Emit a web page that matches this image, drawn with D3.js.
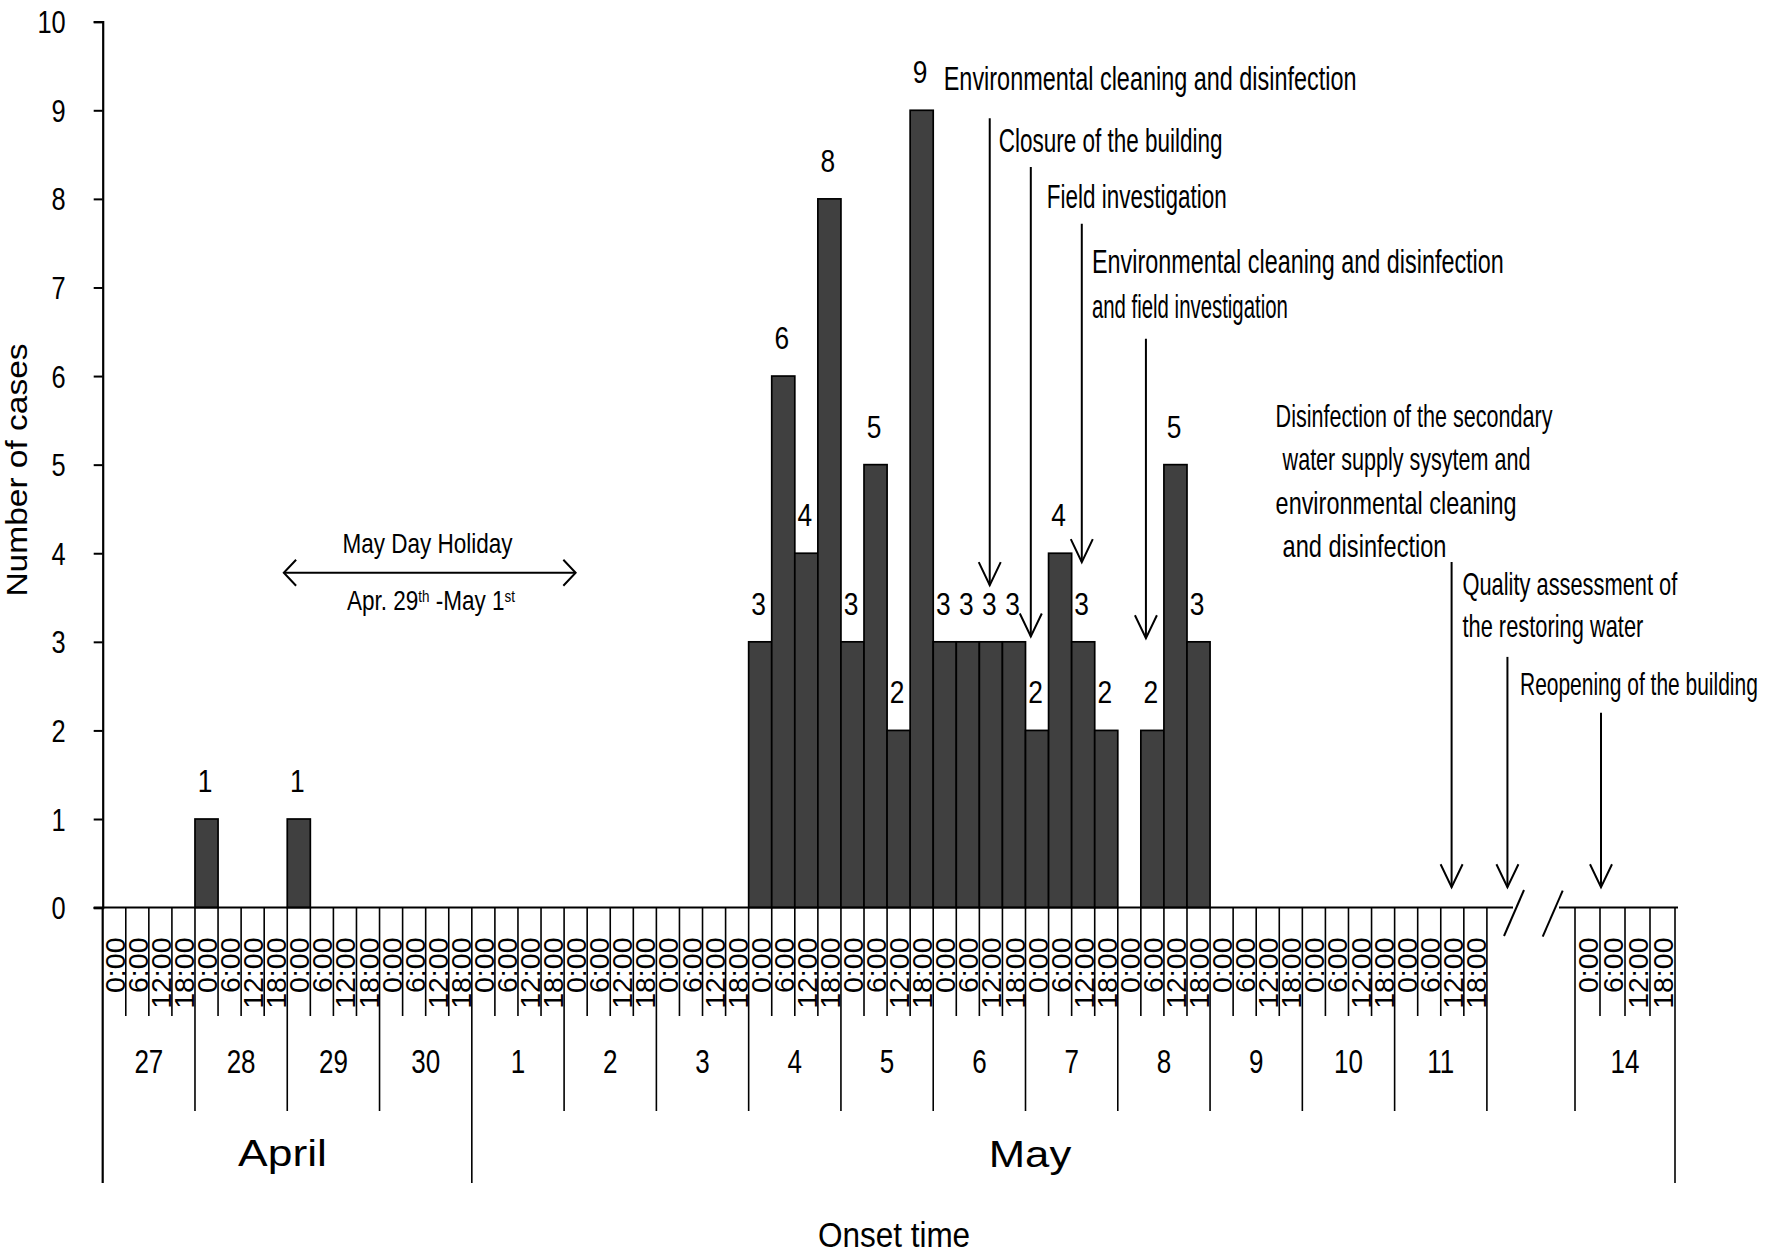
<!DOCTYPE html>
<html><head><meta charset="utf-8">
<script src="https://cdn.jsdelivr.net/npm/d3@7/dist/d3.min.js"></script>
<style>
body{margin:0;background:#fff}
svg{display:block}
text{font-family:"Liberation Sans",Arial,Helvetica,sans-serif;fill:#000}
</style>
</head><body>
<svg id="chart" width="1772" height="1259"></svg>
<script>
// ---------------- data ----------------
const days = ["27","28","29","30","1","2","3","4","5","6","7","8","9","10","11"];
const skippedDay = "14";
const timeLabels = ["0:00","6:00","12:00","18:00"];
const yTicks = [0,1,2,3,4,5,6,7,8,9,10];
// cases per 6-hour slot, Apr 27 0:00 ... May 11 18:00
const cases = [
  0,0,0,0,  1,0,0,0,  1,0,0,0,  0,0,0,0,   // Apr 27-30
  0,0,0,0,  0,0,0,0,  0,0,0,0,              // May 1-3
  3,6,4,8,  3,5,2,9,  3,3,3,3,  2,4,3,2,    // May 4-7
  0,2,5,3,                                  // May 8
  0,0,0,0,  0,0,0,0,  0,0,0,0               // May 9-11
];
const casesDay14 = [0,0,0,0];
const aprilDays = 4; // number of April days shown
const monthNames = ["April","May"];

// annotations: arrow at slot position, from value -> to value
const annotations = [
  {lines:["Environmental cleaning and disinfection"], widths:[413], slot:38.45, from:8.91, to:3.64, dx:-46, dy:-28, lh:45, fs:33.5},
  {lines:["Closure of the building"], widths:[224], slot:40.23, from:8.36, to:3.06, dx:-32, dy:-15, lh:45, fs:33.5},
  {lines:["Field investigation"], widths:[180], slot:42.44, from:7.72, to:3.90, dx:-35, dy:-16, lh:45, fs:33.5},
  {lines:["Environmental cleaning and disinfection","and field investigation"], widths:[412,196], slot:45.22, from:6.42, to:3.04, dx:-54, dy:-66, lh:45, fs:33.5},
  {lines:["Disinfection of the secondary","water supply sysytem and","environmental cleaning","and disinfection"], widths:[277,248,241,164], indent:[0,7,0,7], slot:58.47, from:3.90, to:0.23, dx:-176, dy:-135, lh:43.3, fs:30.5},
  {lines:["Quality assessment of","the restoring water"], widths:[215,181], slot:60.89, from:2.83, to:0.23, dx:-45, dy:-62, lh:42, fs:30.5},
  {lines:["Reopening of the building"], widths:[238], slot14:1.04, from:2.20, to:0.23, dx:-81, dy:-18, lh:42, fs:30.5}
];
const holiday = {title:"May Day Holiday", from:7.85, to:20.5, level:3.78};

// ---------------- layout ----------------
const svg = d3.select("#chart");
const x = d3.scaleLinear().domain([0, 60]).range([102.7, 1486.9]);
const x14 = d3.scaleLinear().domain([0, 4]).range([1575, 1675]);
const y = d3.scaleLinear().domain([0, 10]).range([907.6, 21.7]);
const slotW = x(1) - x(0);
const slotLineEnd = 1016, dayLineEnd = 1111, monthLineEnd = 1183;

function txt(g, str, px, py, fs, k, anchor){
  return g.append("text")
    .attr("transform", `translate(${px},${py}) scale(${k},1)`)
    .attr("font-size", fs)
    .attr("text-anchor", anchor || "start")
    .text(str);
}

// ---------- bars ----------
const barG = svg.append("g");
barG.selectAll("rect").data(cases.map((v,i)=>({v,i})).filter(d=>d.v>0))
  .join("rect")
  .attr("x", d=>x(d.i)).attr("width", slotW)
  .attr("y", d=>y(d.v)).attr("height", d=>y(0)-y(d.v))
  .attr("fill","#404040").attr("stroke","#000").attr("stroke-width",1.7);

// bar value labels
const lblG = svg.append("g");
cases.forEach((v,i)=>{
  if (v>0) txt(lblG, String(v), x(i)+slotW/2-1.5, y(v)-27, 31, 0.85, "middle");
});

// ---------- y axis ----------
const yAxis = d3.axisLeft(y).tickValues(yTicks).tickSize(9).tickPadding(0);
const yg = svg.append("g").attr("transform",`translate(${x(0)},0)`).call(yAxis);
yg.select(".domain").attr("stroke","#000").attr("stroke-width",2.2);
yg.selectAll(".tick line").attr("stroke","#000").attr("stroke-width",2);
yg.selectAll(".tick text")
  .attr("x",null).attr("dy",null)
  .attr("transform","translate(-37,11) scale(0.82,1)")
  .attr("font-size",31).attr("fill","#000")
  .style("font-family",'"Liberation Sans",Arial,sans-serif');

// y title
svg.append("text")
  .attr("transform","translate(27,470) rotate(-90) scale(1,0.88)")
  .attr("font-size",33.5).attr("text-anchor","middle")
  .text("Number of cases");

// ---------- x axis table ----------
const gridG = svg.append("g").attr("stroke","#000").attr("stroke-width",1.6);
d3.range(0, days.length*4+1).forEach(s=>{
  const isDay = s%4===0;
  const isMonth = s===0 || s===aprilDays*4;
  const y2 = isMonth ? monthLineEnd : (isDay ? dayLineEnd : slotLineEnd);
  gridG.append("line").attr("x1",x(s)).attr("x2",x(s)).attr("y1",y(0)).attr("y2",y2)
    .attr("stroke-width", s===0 ? 2.2 : 1.6);
});
d3.range(0,5).forEach(s=>{
  const y2 = s===0 ? dayLineEnd : (s===4 ? monthLineEnd : slotLineEnd);
  gridG.append("line").attr("x1",x14(s)).attr("x2",x14(s)).attr("y1",y(0)).attr("y2",y2);
});

// baseline with break
const baseG = svg.append("g").attr("stroke","#000").attr("stroke-width",2).attr("fill","none");
baseG.append("line").attr("x1",x(0)-9).attr("x2",1513).attr("y1",y(0)).attr("y2",y(0));
baseG.append("line").attr("x1",1559).attr("x2",x14(4)+3).attr("y1",y(0)).attr("y2",y(0));
baseG.append("line").attr("x1",1524).attr("y1",y(0)-17.6).attr("x2",1504).attr("y2",y(0)+28.4);
baseG.append("line").attr("x1",1562.7).attr("y1",y(0)-17).attr("x2",1542.7).attr("y2",y(0)+29);

// time labels (rotated)
const tG = svg.append("g");
function timeLabel(str, px){
  tG.append("text")
    .attr("transform",`translate(${px},937.5) rotate(-90)`)
    .attr("font-size",28.5).attr("text-anchor","end")
    .text(str);
}
d3.range(0, days.length*4).forEach(s=> timeLabel(timeLabels[s%4], x(s+1)-1));
d3.range(0,4).forEach(s=> timeLabel(timeLabels[s], x14(s+1)-1.7));

// day labels
const dG = svg.append("g");
days.forEach((d,i)=> txt(dG, d, x(i*4+2), 1073, 32.5, 0.8, "middle"));
txt(dG, skippedDay, x14(2), 1073, 32.5, 0.8, "middle");

// month labels
txt(svg, monthNames[0], 282.5, 1165.5, 37, 1.2, "middle");
txt(svg, monthNames[1], 1030, 1166.5, 37, 1.18, "middle");

// x title
txt(svg, "Onset time", 894, 1246.5, 35, 0.9, "middle");

// ---------- annotations ----------
const aG = svg.append("g");
function arrowDown(px, yTop, yTip){
  aG.append("line").attr("x1",px).attr("x2",px).attr("y1",yTop).attr("y2",yTip)
    .attr("stroke","#000").attr("stroke-width",2);
  aG.append("path").attr("d",`M${px-11},${yTip-23} L${px},${yTip} L${px+11},${yTip-23}`)
    .attr("stroke","#000").attr("stroke-width",2).attr("fill","none");
}
annotations.forEach(a=>{
  const px = a.slot14!==undefined ? x14(a.slot14) : x(a.slot);
  const yTop = y(a.from);
  arrowDown(px, yTop, y(a.to));
  a.lines.forEach((line,j)=>{
    const tx = px + a.dx + (a.indent ? a.indent[j] : 0);
    const ty = yTop + a.dy + j*a.lh;
    const t = aG.append("text")
      .attr("font-size", a.fs)
      .text(line);
    const natural = t.node().getComputedTextLength() || a.widths[j];
    const k = a.widths[j] / natural;
    t.attr("transform", `translate(${tx},${ty}) scale(${k},1)`);
  });
});

// May Day Holiday double arrow
const hx1 = x(holiday.from), hx2 = x(holiday.to), hy = y(holiday.level);
aG.append("line").attr("x1",hx1).attr("x2",hx2).attr("y1",hy).attr("y2",hy)
  .attr("stroke","#000").attr("stroke-width",2);
aG.append("path").attr("d",`M${hx1+12.3},${hy-13} L${hx1},${hy} L${hx1+12.3},${hy+13}`)
  .attr("stroke","#000").attr("stroke-width",2).attr("fill","none");
aG.append("path").attr("d",`M${hx2-12.3},${hy-13} L${hx2},${hy} L${hx2-12.3},${hy+13}`)
  .attr("stroke","#000").attr("stroke-width",2).attr("fill","none");
txt(aG, holiday.title, 427.5, hy-19.4, 28.5, 0.79, "middle");
const sub = aG.append("text")
  .attr("transform",`translate(431,${hy+37.3}) scale(0.79,1)`)
  .attr("font-size",28.5).attr("text-anchor","middle");
sub.append("tspan").text("Apr. 29");
sub.append("tspan").attr("font-size",17).attr("dy",-8.5).text("th");
sub.append("tspan").attr("dy",8.5).style("white-space","pre").text(" -May 1");
sub.append("tspan").attr("font-size",17).attr("dy",-8.5).text("st");
</script>
</body></html>
